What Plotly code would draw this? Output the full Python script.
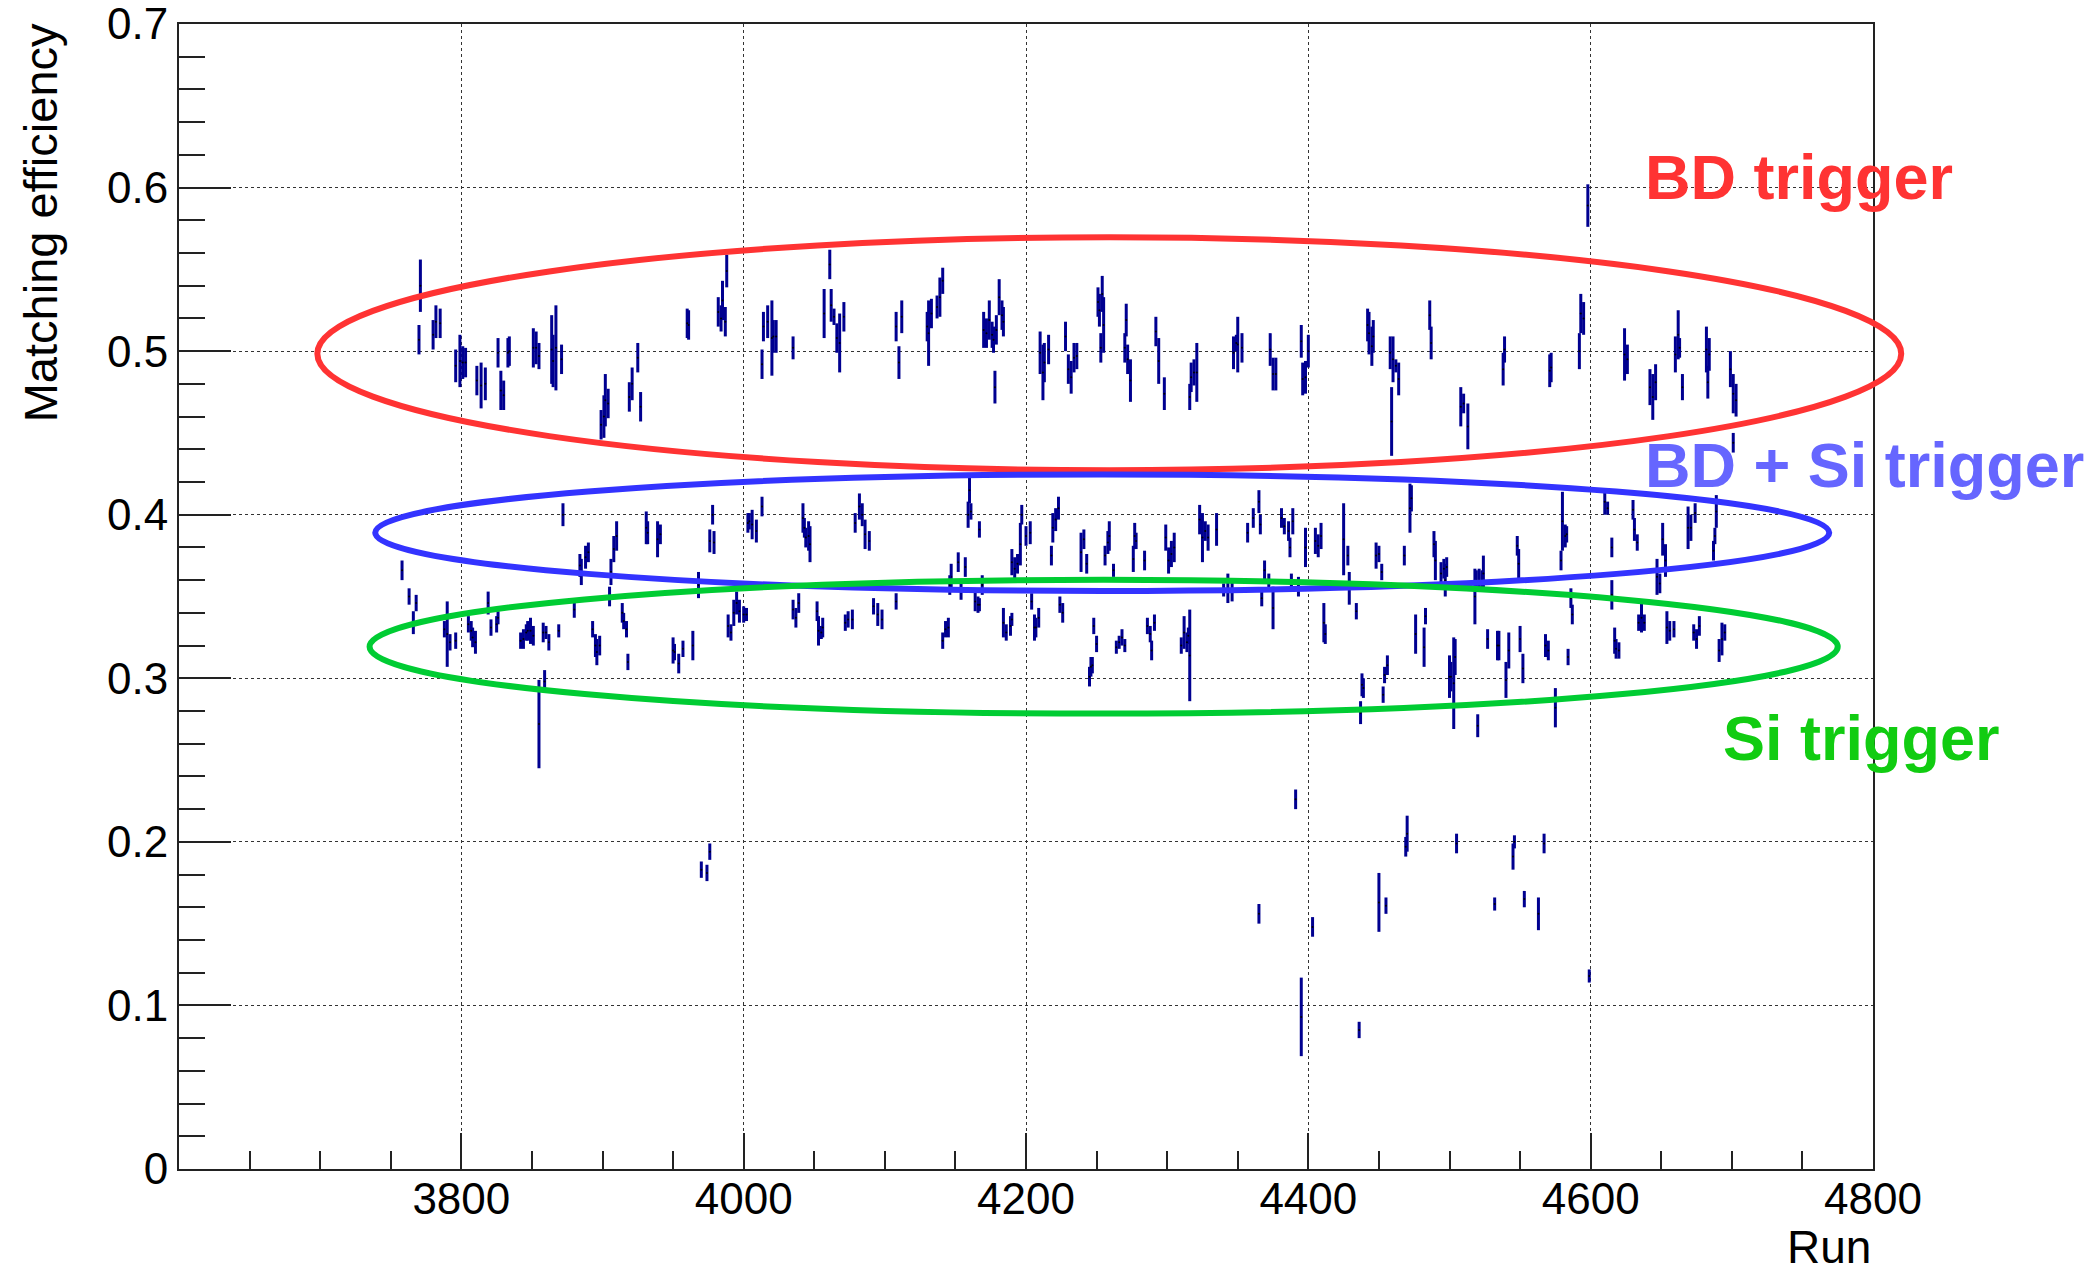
import plotly.graph_objects as go

# ---------------- data: matching efficiency per run ----------------
# BD trigger runs
bd_run = [3770, 3771, 3780, 3782, 3785, 3796, 3799, 3801, 3803, 3811, 3814, 3817, 3826, 3828,
          3830, 3833, 3834, 3851, 3853, 3855, 3864, 3865, 3867, 3871, 3899, 3901, 3902, 3904,
          3919, 3921, 3925, 3927, 3960, 3961, 3982, 3984, 3985, 3987, 3988, 4013, 4014, 4017,
          4020, 4021, 4023, 4035, 4057, 4061, 4062, 4064, 4066, 4068, 4071,
          4108, 4110, 4112, 4130, 4131, 4133, 4137, 4139, 4141, 4170, 4172, 4174, 4176, 4177,
          4178, 4179, 4181, 4183, 4184, 4210, 4212, 4213, 4216, 4228, 4230, 4232, 4234, 4236,
          4251, 4252, 4253, 4254, 4255, 4270, 4271, 4272, 4274, 4292, 4294, 4298, 4316, 4317,
          4319, 4321, 4347, 4349, 4350, 4353, 4373, 4375, 4377, 4395, 4396, 4398, 4400,
          4442, 4443, 4445, 4446, 4458, 4459, 4460, 4462, 4464, 4486, 4487, 4508, 4510, 4513,
          4538, 4539, 4571, 4572, 4592, 4593, 4595, 4598, 4624, 4626, 4642, 4644, 4646, 4660,
          4662, 4663, 4665, 4682, 4683, 4684, 4699, 4701, 4701, 4703]
bd_eff = [0.507, 0.540, 0.510, 0.518, 0.517, 0.491, 0.494, 0.493, 0.493, 0.482, 0.479, 0.480, 0.499, 0.476,
          0.473, 0.499, 0.500, 0.502, 0.502, 0.497, 0.501, 0.494, 0.502, 0.495, 0.455, 0.460, 0.470, 0.468,
          0.472, 0.480, 0.496, 0.466, 0.517, 0.516, 0.524, 0.520, 0.531, 0.518, 0.549, 0.492, 0.515, 0.518,
          0.508, 0.509, 0.509, 0.502, 0.523, 0.553, 0.528, 0.521, 0.508, 0.505, 0.521,
          0.515, 0.493, 0.521, 0.515, 0.511, 0.523, 0.527, 0.533, 0.543, 0.513, 0.511, 0.519, 0.510, 0.507,
          0.478, 0.513, 0.533, 0.522, 0.518, 0.499, 0.487, 0.493, 0.501, 0.509, 0.489, 0.484, 0.496, 0.497,
          0.530, 0.525, 0.502, 0.535, 0.516, 0.502, 0.519, 0.495, 0.482, 0.512, 0.494, 0.474, 0.472, 0.484,
          0.487, 0.487, 0.499, 0.505, 0.504, 0.502, 0.501, 0.486, 0.486, 0.506, 0.483, 0.484, 0.500,
          0.516, 0.511, 0.503, 0.509, 0.499, 0.457, 0.495, 0.491, 0.483, 0.522, 0.505, 0.466, 0.468, 0.454,
          0.489, 0.501, 0.488, 0.490, 0.500, 0.523, 0.520, 0.589, 0.498, 0.495, 0.478, 0.472, 0.481, 0.498,
          0.510, 0.502, 0.478, 0.501, 0.481, 0.498, 0.489, 0.474, 0.444, 0.470]
bd_err = [0.009, 0.016, 0.009, 0.010, 0.009, 0.010, 0.016, 0.010, 0.009, 0.009, 0.014, 0.010, 0.009, 0.012,
          0.009, 0.009, 0.009, 0.012, 0.010, 0.008, 0.021, 0.016, 0.026, 0.009, 0.009, 0.013, 0.016, 0.009,
          0.009, 0.010, 0.009, 0.009, 0.009, 0.009, 0.009, 0.008, 0.012, 0.009, 0.010, 0.009, 0.009, 0.010,
          0.023, 0.010, 0.010, 0.007, 0.015, 0.009, 0.010, 0.005, 0.009, 0.018, 0.009,
          0.009, 0.010, 0.010, 0.009, 0.020, 0.009, 0.007, 0.012, 0.008, 0.011, 0.009, 0.012, 0.008, 0.008,
          0.010, 0.009, 0.011, 0.009, 0.009, 0.013, 0.017, 0.012, 0.009, 0.009, 0.009, 0.010, 0.009, 0.008,
          0.009, 0.010, 0.009, 0.011, 0.017, 0.009, 0.010, 0.009, 0.013, 0.009, 0.014, 0.010, 0.008, 0.009,
          0.008, 0.018, 0.010, 0.005, 0.017, 0.009, 0.010, 0.010, 0.010, 0.010, 0.010, 0.010, 0.010,
          0.010, 0.013, 0.012, 0.010, 0.010, 0.021, 0.014, 0.004, 0.010, 0.009, 0.010, 0.012, 0.006, 0.014,
          0.010, 0.008, 0.010, 0.009, 0.011, 0.012, 0.010, 0.013, 0.016, 0.009, 0.011, 0.014, 0.011, 0.011,
          0.015, 0.006, 0.008, 0.014, 0.010, 0.010, 0.011, 0.012, 0.006, 0.010]

# BD + Si trigger runs
bdsi_run = [3758, 3872, 3884, 3885, 3888, 3890, 3906, 3908, 3910, 3931, 3932, 3939, 3941, 3968,
            3976, 3978, 3979, 4003, 4004, 4006, 4009, 4013, 4042, 4043, 4044, 4046, 4047,
            4079, 4082, 4084, 4086, 4089, 4147, 4152, 4157, 4159, 4160, 4161, 4167, 4190, 4192,
            4194, 4196, 4197, 4200, 4203, 4218, 4219, 4221, 4223, 4239, 4241, 4243, 4256, 4258,
            4259, 4262, 4276, 4277, 4278, 4284, 4299, 4301, 4303, 4305, 4323, 4325, 4327, 4329,
            4335, 4357, 4361, 4365, 4366, 4381, 4383, 4386, 4387, 4389, 4398, 4405, 4407, 4409,
            4425, 4428, 4448, 4450, 4452, 4468, 4472, 4473, 4489, 4490, 4494, 4497, 4498, 4519,
            4523, 4524, 4548, 4549, 4579, 4580, 4582, 4583, 4610, 4612, 4615, 4630, 4631, 4633,
            4649, 4651, 4653, 4669, 4671, 4674, 4687, 4688, 4689]
bdsi_eff = [0.366, 0.400, 0.369, 0.365, 0.374, 0.377, 0.365, 0.379, 0.387, 0.392, 0.389, 0.385, 0.388, 0.357,
            0.384, 0.400, 0.383, 0.395, 0.396, 0.394, 0.390, 0.405, 0.398, 0.392, 0.386, 0.387, 0.382,
            0.395, 0.405, 0.400, 0.388, 0.384, 0.362, 0.371, 0.368, 0.400, 0.415, 0.402, 0.391, 0.371, 0.367,
            0.370, 0.382, 0.400, 0.387, 0.389, 0.375, 0.392, 0.397, 0.404, 0.377, 0.385, 0.370, 0.375, 0.383,
            0.387, 0.366, 0.373, 0.387, 0.384, 0.372, 0.386, 0.372, 0.376, 0.380, 0.397, 0.386, 0.390, 0.386,
            0.391, 0.389, 0.398, 0.408, 0.394, 0.398, 0.393, 0.390, 0.380, 0.396, 0.380, 0.384, 0.381, 0.387,
            0.385, 0.375, 0.375, 0.376, 0.365, 0.375, 0.404, 0.410, 0.382, 0.372, 0.364, 0.360, 0.368, 0.360,
            0.360, 0.364, 0.381, 0.370, 0.372, 0.396, 0.387, 0.388, 0.408, 0.404, 0.380, 0.403, 0.391, 0.383,
            0.358, 0.385, 0.372, 0.392, 0.392, 0.401, 0.378, 0.387, 0.402]
bdsi_err = [0.006, 0.007, 0.007, 0.008, 0.007, 0.006, 0.008, 0.008, 0.009, 0.010, 0.007, 0.011, 0.006, 0.008,
            0.007, 0.006, 0.007, 0.006, 0.005, 0.009, 0.007, 0.006, 0.009, 0.006, 0.006, 0.009, 0.011,
            0.006, 0.008, 0.007, 0.009, 0.006, 0.008, 0.006, 0.006, 0.008, 0.008, 0.005, 0.005, 0.008, 0.007,
            0.006, 0.013, 0.006, 0.006, 0.007, 0.006, 0.009, 0.007, 0.007, 0.012, 0.006, 0.006, 0.006, 0.007,
            0.009, 0.004, 0.008, 0.008, 0.005, 0.006, 0.008, 0.008, 0.008, 0.009, 0.009, 0.015, 0.006, 0.008,
            0.010, 0.006, 0.006, 0.007, 0.006, 0.006, 0.005, 0.006, 0.006, 0.008, 0.012, 0.008, 0.007, 0.008,
            0.022, 0.006, 0.008, 0.005, 0.005, 0.006, 0.015, 0.008, 0.008, 0.012, 0.007, 0.010, 0.006, 0.006,
            0.006, 0.011, 0.006, 0.009, 0.006, 0.018, 0.007, 0.005, 0.008, 0.004, 0.006, 0.006, 0.007, 0.005,
            0.006, 0.010, 0.010, 0.013, 0.008, 0.006, 0.006, 0.005, 0.010]

# Si trigger runs
si_run = [3763, 3766, 3768, 3788, 3790, 3792, 3796, 3805, 3807, 3808, 3810, 3819, 3821, 3825,
          3826, 3842, 3844, 3846, 3847, 3849, 3851, 3855, 3858, 3859, 3860, 3862, 3869, 3880,
          3893, 3895, 3896, 3898, 3905, 3914, 3915, 3917, 3918, 3950, 3951, 3954, 3957, 3964,
          3970, 3974, 3976, 3989, 3991, 3993, 3995, 3997, 4000, 4002, 4035, 4037, 4039, 4052,
          4053, 4055, 4056, 4072, 4074,
          4077, 4092, 4095, 4098, 4108, 4141, 4143, 4145, 4146, 4154, 4164, 4166, 4167, 4169,
          4184, 4186, 4189, 4190, 4204, 4206, 4207, 4209, 4224, 4226, 4245, 4246, 4247, 4248,
          4250, 4264, 4266, 4268, 4270, 4286, 4288, 4289, 4291, 4310, 4312, 4314, 4315, 4316,
          4340, 4343, 4346, 4367, 4369, 4372, 4375, 4388, 4393,
          4411, 4412, 4429, 4434, 4437, 4438, 4439, 4453, 4454, 4456, 4476, 4482, 4483, 4496,
          4500, 4501, 4503, 4504, 4518, 4520, 4521, 4527, 4534, 4535, 4540, 4542, 4550, 4552,
          4568, 4570, 4575, 4584, 4586, 4587, 4615, 4617, 4618, 4620, 4634, 4636, 4638, 4647,
          4654, 4656, 4659, 4673, 4675, 4677, 4691, 4693, 4695,
          4365, 4391, 4395, 4403, 4436, 4450, 4455, 4469, 4470, 4505, 4532, 4545, 4546, 4553,
          4563, 4567, 4599]
si_eff = [0.350, 0.334, 0.346, 0.330, 0.327, 0.322, 0.323, 0.333, 0.329, 0.325, 0.322, 0.346, 0.331, 0.333,
          0.337, 0.323, 0.324, 0.328, 0.329, 0.329, 0.326, 0.272, 0.328, 0.298, 0.328, 0.322, 0.329, 0.342,
          0.330, 0.320, 0.316, 0.320, 0.350, 0.340, 0.335, 0.330, 0.310, 0.317, 0.316, 0.309, 0.318, 0.320,
          0.183, 0.181, 0.194, 0.332, 0.328, 0.340, 0.346, 0.341, 0.339, 0.339, 0.342, 0.337, 0.346, 0.341,
          0.329, 0.328, 0.331, 0.334, 0.336,
          0.336, 0.344, 0.339, 0.336, 0.347, 0.323, 0.330, 0.331, 0.357, 0.353, 0.347, 0.345, 0.345, 0.357,
          0.334, 0.328, 0.332, 0.336, 0.347, 0.331, 0.331, 0.337, 0.345, 0.340, 0.301, 0.307, 0.308, 0.332,
          0.321, 0.319, 0.322, 0.325, 0.320, 0.332, 0.327, 0.317, 0.334, 0.320, 0.328, 0.322, 0.326, 0.314,
          0.354, 0.355, 0.354, 0.349, 0.366, 0.359, 0.343, 0.359, 0.356,
          0.334, 0.327, 0.355, 0.341, 0.279, 0.296, 0.294, 0.290, 0.302, 0.308, 0.327, 0.319, 0.338, 0.367,
          0.301, 0.301, 0.297, 0.313, 0.350, 0.271, 0.360, 0.324, 0.320, 0.320, 0.299, 0.317, 0.324, 0.306,
          0.320, 0.317, 0.282, 0.313, 0.349, 0.339, 0.351, 0.323, 0.318, 0.317, 0.334, 0.337, 0.334, 0.362,
          0.331, 0.329, 0.330, 0.328, 0.324, 0.332, 0.317, 0.324, 0.328,
          0.156, 0.226, 0.093, 0.148, 0.085, 0.163, 0.161, 0.197, 0.205, 0.199, 0.162, 0.191, 0.200, 0.165,
          0.156, 0.199, 0.118]
si_err = [0.005, 0.007, 0.005, 0.005, 0.020, 0.005, 0.005, 0.005, 0.006, 0.006, 0.007, 0.007, 0.005, 0.005,
          0.004, 0.005, 0.006, 0.005, 0.006, 0.008, 0.006, 0.027, 0.006, 0.007, 0.004, 0.005, 0.004, 0.005,
          0.005, 0.007, 0.008, 0.006, 0.006, 0.006, 0.005, 0.005, 0.005, 0.008, 0.005, 0.006, 0.005, 0.009,
          0.005, 0.005, 0.005, 0.007, 0.005, 0.008, 0.007, 0.007, 0.005, 0.004, 0.006, 0.006, 0.006, 0.006,
          0.009, 0.004, 0.006, 0.005, 0.005,
          0.006, 0.005, 0.007, 0.006, 0.005, 0.005, 0.005, 0.006, 0.006, 0.005, 0.006, 0.005, 0.004, 0.006,
          0.009, 0.005, 0.006, 0.004, 0.005, 0.008, 0.006, 0.006, 0.005, 0.006, 0.006, 0.006, 0.005, 0.005,
          0.005, 0.004, 0.004, 0.005, 0.004, 0.005, 0.005, 0.006, 0.005, 0.005, 0.010, 0.006, 0.005, 0.028,
          0.004, 0.009, 0.007, 0.005, 0.006, 0.005, 0.013, 0.005, 0.006,
          0.012, 0.006, 0.010, 0.005, 0.007, 0.007, 0.006, 0.005, 0.005, 0.006, 0.012, 0.012, 0.005, 0.006,
          0.013, 0.009, 0.028, 0.011, 0.017, 0.007, 0.007, 0.006, 0.009, 0.009, 0.011, 0.011, 0.008, 0.009,
          0.007, 0.006, 0.012, 0.005, 0.006, 0.006, 0.009, 0.008, 0.006, 0.005, 0.005, 0.009, 0.005, 0.011,
          0.010, 0.006, 0.005, 0.005, 0.006, 0.006, 0.007, 0.010, 0.005,
          0.006, 0.006, 0.024, 0.006, 0.005, 0.018, 0.005, 0.006, 0.011, 0.006, 0.004, 0.008, 0.004, 0.005,
          0.010, 0.006, 0.004]

# Axis ranges and ticks
x_range = [3600, 4800]
y_range = [0.0, 0.7]
x_tickvals = [3800, 4000, 4200, 4400, 4600, 4800]
y_tickvals = [0.0, 0.1, 0.2, 0.3, 0.4, 0.5, 0.6, 0.7]
y_ticktext = ["0", "0.1", "0.2", "0.3", "0.4", "0.5", "0.6", "0.7"]

# Ellipses grouping the trigger populations: (run centre, eff centre, run radius, eff radius, colour)
ellipses = [
    (4259, 0.4984, 561, 0.0712, "#ff3333"),
    (4254, 0.3890, 515, 0.0356, "#3333ff"),
    (4255, 0.3193, 520, 0.0409, "#00cc33"),
]

# Group labels: (text, run of left edge, eff of cap middle, colour)
labels = [
    ("BD trigger", 4637, 0.6062, "#ff3333"),
    ("BD + Si trigger", 4637, 0.4301, "#6666ff"),
    ("Si trigger", 4692, 0.2632, "#11cc11"),
]

BAR = "#000090"
FONT = "Liberation Sans, Arial, Helvetica, sans-serif"

fig = go.Figure()
for runs, effs, errs in [(bd_run, bd_eff, bd_err), (bdsi_run, bdsi_eff, bdsi_err), (si_run, si_eff, si_err)]:
    fig.add_trace(go.Scatter(
        x=runs, y=effs, mode="markers",
        marker=dict(size=2, color="#000000"),
        error_y=dict(type="data", array=errs, visible=True, color=BAR, thickness=3, width=0),
        showlegend=False, hoverinfo="x+y",
    ))


def fx(v):
    return (v - x_range[0]) / (x_range[1] - x_range[0])


def fy(v):
    return (v - y_range[0]) / (y_range[1] - y_range[0])


# Ellipses are placed in axis-domain fractions so they may extend past the frame
for xc, yc, rx, ry, col in ellipses:
    fig.add_shape(type="circle", xref="x domain", yref="y domain",
                  x0=fx(xc - rx), x1=fx(xc + rx), y0=fy(yc - ry), y1=fy(yc + ry),
                  line=dict(color=col, width=6), layer="above")

for text, xl, yc, col in labels:
    fig.add_annotation(x=xl, y=yc, xref="x", yref="y", text=text, showarrow=False,
                       xanchor="left", yanchor="middle",
                       font=dict(family=FONT, size=63, color=col, weight="bold"))

# Axis titles (ROOT style: aligned to the axis ends)
fig.add_annotation(text="Matching efficiency", textangle=-90, xref="paper", yref="paper",
                   x=-0.082, y=1.002, xanchor="center", yanchor="top", showarrow=False,
                   font=dict(family=FONT, size=47, color="#000000"))
fig.add_annotation(text="Run", xref="paper", yref="paper", x=1.0, y=-0.0685,
                   xanchor="right", yanchor="middle", showarrow=False,
                   font=dict(family=FONT, size=46, color="#000000"))

axis_common = dict(
    showline=True, linecolor="#222222", linewidth=2, mirror=True,
    ticks="inside", tickcolor="#222222", tickwidth=2,
    showgrid=True, gridcolor="#333333", gridwidth=1.3, griddash="dot",
    zeroline=False, ticklabeloverflow="allow", automargin=False,
    tickfont=dict(family=FONT, size=44, color="#000000"),
)

fig.update_xaxes(range=x_range, tickmode="array", tickvals=x_tickvals, ticklen=36,
                 ticklabelstandoff=-10,
                 minor=dict(tick0=3600, dtick=50, ticks="inside", ticklen=18,
                            tickcolor="#222222", tickwidth=2, showgrid=False),
                 **axis_common)
fig.update_yaxes(range=y_range, tickmode="array", tickvals=y_tickvals, ticktext=y_ticktext,
                 ticklen=52,
                 minor=dict(tick0=0, dtick=0.02, ticks="inside", ticklen=26,
                            tickcolor="#222222", tickwidth=2, showgrid=False),
                 **axis_common)

fig.update_layout(
    width=2098, height=1273,
    margin=dict(l=179, r=225, t=24, b=104, autoexpand=False),
    paper_bgcolor="white", plot_bgcolor="white",
    font=dict(family=FONT, color="#000000"),
    showlegend=False,
)

fig.write_html("out.html")
